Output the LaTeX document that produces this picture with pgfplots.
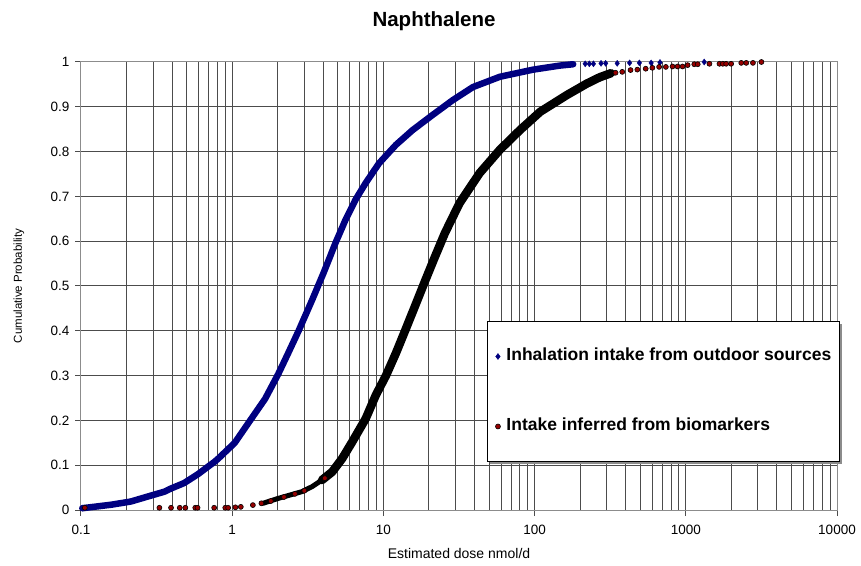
\documentclass[border=0pt]{standalone}
\usepackage{fontspec}
\setmainfont{Liberation Sans}
\usepackage{pgfplots}
\pgfplotsset{compat=1.18}
\usetikzlibrary{shadows}

\definecolor{navyblue}{RGB}{0,0,128}
\definecolor{darkred}{RGB}{150,0,0}

\begin{document}
\begin{tikzpicture}
\begin{axis}[
  at={(0pt,0pt)}, anchor=south west,
  scale only axis,
  width=756pt, height=448pt,
  xmode=log,
  xmin=0.1, xmax=10000,
  ymin=0, ymax=1,
  clip=false,
  xtick={0.1,1,10,100,1000,10000},
  xticklabels={0.1,1,10,100,1000,10000},
  minor xtick={0.2,0.3,0.4,0.5,0.6,0.7,0.8,0.9,
               2,3,4,5,6,7,8,9,
               20,30,40,50,60,70,80,90,
               200,300,400,500,600,700,800,900,
               2000,3000,4000,5000,6000,7000,8000,9000},
  ytick={0,0.1,0.2,0.3,0.4,0.5,0.6,0.7,0.8,0.9,1},
  yticklabel style={/pgf/number format/fixed, /pgf/number format/precision=1},
  /pgf/number format/assume math mode=true,
  tick label style={font=\fontsize{13.5}{15}\selectfont, black},
  xticklabel style={yshift=-6pt},
  yticklabel style={xshift=-2pt},
  tick align=outside,
  major tick length=6pt,
  minor tick length=0pt,
  xtick pos=bottom, ytick pos=left,
  tick style={black!70, line width=1pt},
  grid=both,
  major grid style={black!70, line width=1pt},
  minor grid style={black!70, line width=1pt},
  axis line style={black!45, line width=1pt},
  xlabel={Estimated dose nmol/d},
  xlabel style={font=\fontsize{14}{16}\selectfont, at={(axis description cs:0.5,0)}, anchor=base, yshift=-48pt},
  ylabel={Cumulative Probability},
  ylabel style={font=\fontsize{11.5}{13}\selectfont, at={(axis description cs:-0.082,0.5)}, anchor=center},
  title={Naphthalene},
  title style={font=\bfseries\fontsize{20.5}{24}\selectfont, at={(axis description cs:0.467,1)}, anchor=base, yshift=29pt},
  legend style={at={(0.537,0.4219)}, anchor=north west,
    draw=black, line width=1pt, fill=white,
    drop shadow={shadow xshift=3pt, shadow yshift=-3pt, fill=black!45, opacity=1},
    inner xsep=8pt, inner ysep=27pt, row sep=54pt,
    font=\bfseries\fontsize{17.5}{20}\selectfont,
    nodes={inner sep=0pt, text height=12pt, text depth=4pt},
    /tikz/every odd column/.append style={column sep=6pt}},
  legend cell align=left,
  legend image code/.code={\draw[#1] plot coordinates {(0pt,0pt)};},
]

% blue: dense part of the cloud
\addplot[navyblue, line width=6.5pt, line cap=round, line join=round, forget plot] coordinates {
  (0.102,0.004) (0.128,0.008) (0.16,0.012) (0.214,0.019) (0.276,0.030)
  (0.357,0.041) (0.394,0.048) (0.48,0.060) (0.594,0.080) (0.767,0.108)
  (0.81,0.115) (1.04,0.150) (1.34,0.204) (1.65,0.248) (2.02,0.304)
  (2.36,0.352) (2.75,0.40) (3.37,0.468) (4.03,0.53)
  (4.82,0.596) (5.62,0.648) (6.55,0.693) (7.64,0.730) (9.36,0.774)
  (12.1,0.815) (15.6,0.848) (21.2,0.882) (28.8,0.915) (39.1,0.944)
  (58.9,0.967) (98,0.983) (147,0.992) (180,0.995)
};
% blue: sparse tail
\addplot[only marks, mark=diamond*, mark size=3pt, navyblue,
  mark options={line width=0.4pt, fill=navyblue}] coordinates {
  (0.102,0.004) (216,0.996) (230,0.996) (245,0.996) (275,0.997) (295,0.997)
  (352,0.997) (425,0.998) (493,0.998) (590,0.998) (675,0.999) (1324,1.0)
};
\addlegendentry{Inhalation intake from outdoor sources}

% red: dense part (looks black)
\addplot[black, line width=5pt, line cap=round, line join=round, forget plot] coordinates {
  (1.6,0.015) (2.02,0.026) (2.89,0.041) (3.37,0.052) (3.93,0.067) (4.58,0.085)
};
\addplot[black, line width=8.5pt, line cap=round, line join=round, forget plot] coordinates {
  (3.93,0.067) (4.58,0.085) (5.34,0.115) (6.22,0.152) (7.64,0.204)
  (8.9,0.256) (10.4,0.30) (12.1,0.35) (14.1,0.405) (16.4,0.46)
  (18.8,0.51) (21.6,0.56) (25.5,0.618) (31.9,0.685) (43.3,0.752)
  (58.9,0.804) (80,0.848) (109,0.889) (163,0.926) (222,0.952)
  (270,0.966) (320,0.975)
};
% red: sparse points
\addplot[only marks, mark=*, mark size=2.5pt, black,
  mark options={line width=0.6pt, fill=darkred, draw=black}] coordinates {
  (0.106,0.005) (0.33,0.005) (0.394,0.005) (0.45,0.005) (0.49,0.005)
  (0.57,0.005) (0.59,0.005) (0.76,0.005) (0.90,0.005) (0.94,0.005)
  (1.05,0.006) (1.14,0.007) (1.37,0.011) (1.56,0.015) (1.8,0.020)
  (2.2,0.029) (2.6,0.036) (3.0,0.043) (4.1,0.071)
  (343,0.976) (380,0.978) (431,0.982) (478,0.983) (543,0.985) (601,0.987)
  (666,0.989) (738,0.989) (817,0.99) (882,0.99) (952,0.99) (1028,0.993)
  (1138,0.995) (1199,0.995) (1433,0.996) (1670,0.996) (1757,0.996)
  (1849,0.996) (1995,0.996) (2327,0.998) (2511,0.998) (2781,0.998) (3162,1.0)
};
\addlegendentry{Intake inferred from biomarkers}

\end{axis}
\pgfresetboundingbox
\path (-81pt,-55pt) rectangle (780pt,510pt);
\end{tikzpicture}
\end{document}
